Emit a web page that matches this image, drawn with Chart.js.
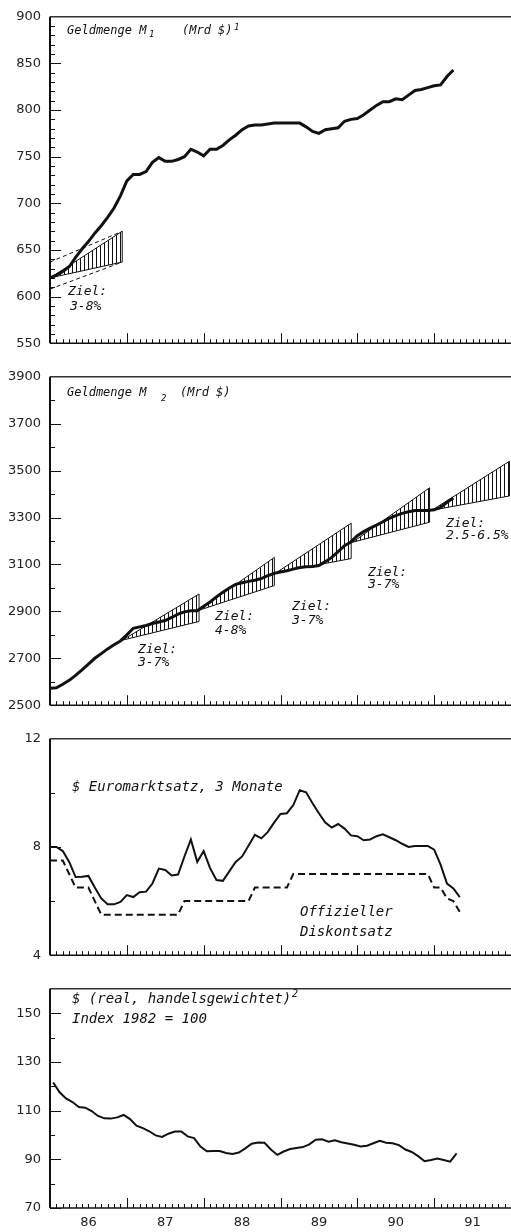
<!DOCTYPE html>
<html>
<head>
<meta charset="UTF-8">
<title>Geldmenge, Zinsen, Dollar</title>
<script src="https://cdn.jsdelivr.net/npm/chart.js@4.4.1/dist/chart.umd.min.js"></script>
<style>
  body { margin: 0; background: #fff; }
  .panel { position: absolute; left: 0; width: 511px; }
  canvas { display: block; }
</style>
</head>
<body>
<div class="panel" style="top:0px"><canvas id="m1" width="511" height="360"></canvas></div>
<div class="panel" style="top:360px"><canvas id="m2" width="511" height="362"></canvas></div>
<div class="panel" style="top:722px"><canvas id="zins" width="511" height="250"></canvas></div>
<div class="panel" style="top:972px"><canvas id="dollar" width="511" height="260"></canvas></div>
<script>
// monthly values, Jan 1986 onwards
const startYear = 1986;
const yearLabels = ['86', '87', '88', '89', '90', '91'];

const m1 = [620, 623, 627, 632, 642, 651, 659, 668, 676, 685,
  695, 708, 724, 731, 731, 734, 744, 749, 745, 745,
  747, 750, 758, 755, 751, 758, 758, 762, 768, 773,
  779, 783, 784, 784, 785, 786, 786, 786, 786, 786,
  782, 777, 775, 779, 780, 781, 788, 790, 791, 795,
  800, 805, 809, 809, 812, 811, 816, 821, 822, 824,
  826, 827, 836, 843];

const m2 = [2572, 2574, 2589, 2606, 2627, 2651, 2675, 2700, 2720, 2740,
  2758, 2774, 2800, 2828, 2834, 2840, 2848, 2855, 2861, 2874,
  2888, 2898, 2903, 2903, 2922, 2940, 2962, 2982, 3000, 3015,
  3022, 3028, 3033, 3040, 3052, 3062, 3068, 3073, 3080, 3087,
  3090, 3091, 3095, 3112, 3130, 3155, 3180, 3196, 3223, 3240,
  3255, 3268, 3282, 3297, 3308, 3318, 3325, 3330, 3330, 3330,
  3333, 3343, 3365, 3383];

const euro = [8.0, 8.0, 7.85, 7.45, 6.89, 6.90, 6.93, 6.50, 6.10, 5.88,
  5.88, 5.97, 6.22, 6.15, 6.33, 6.35, 6.65, 7.20, 7.15, 6.95,
  6.98, 7.65, 8.28, 7.45, 7.85, 7.22, 6.78, 6.75, 7.10, 7.45,
  7.65, 8.05, 8.45, 8.32, 8.55, 8.90, 9.22, 9.25, 9.55, 10.1,
  10.02, 9.62, 9.25, 8.90, 8.72, 8.85, 8.68, 8.43, 8.40, 8.25,
  8.28, 8.40, 8.47, 8.36, 8.25, 8.12, 8.00, 8.04, 8.04, 8.04,
  7.90, 7.35, 6.65, 6.47, 6.15];

const diskont = [7.5, 7.5, 7.5, 7.0, 6.5, 6.5, 6.5, 6.0, 5.5, 5.5,
  5.5, 5.5, 5.5, 5.5, 5.5, 5.5, 5.5, 5.5, 5.5, 5.5,
  5.5, 6.0, 6.0, 6.0, 6.0, 6.0, 6.0, 6.0, 6.0, 6.0,
  6.0, 6.0, 6.5, 6.5, 6.5, 6.5, 6.5, 6.5, 7.0, 7.0,
  7.0, 7.0, 7.0, 7.0, 7.0, 7.0, 7.0, 7.0, 7.0, 7.0,
  7.0, 7.0, 7.0, 7.0, 7.0, 7.0, 7.0, 7.0, 7.0, 7.0,
  6.5, 6.5, 6.1, 6.0, 5.6];

const dollar = [121.5, 117.5, 115, 113.5, 111.5, 111.2, 109.8, 107.8, 106.8, 106.7,
  107.2, 108.2, 106.5, 103.8, 102.8, 101.5, 99.8, 99.2, 100.5, 101.4,
  101.4, 99.4, 98.7, 95.2, 93.3, 93.4, 93.4, 92.6, 92.2, 92.8,
  94.5, 96.4, 96.9, 96.8, 94.0, 91.8, 93.2, 94.2, 94.6, 95.0,
  96.1, 98.0, 98.2, 97.2, 97.8, 97.0, 96.5, 96.0, 95.3, 95.6,
  96.6, 97.6, 96.8, 96.6, 95.8, 94.0, 93.0, 91.3, 89.2, 89.7,
  90.3, 89.7, 89.0, 92.4];

// target cones: start / end (year), base value, lower and upper end value
const m1ConeX0 = [1986.0];
const m1ConeX1 = [1986.94];
const m1ConeBase = [620];
const m1ConeLow = [637];
const m1ConeHigh = [670];
const m1Channel = [[608, 637], [637, 670]];

const m2ConeX0 = [1986.94, 1987.94, 1988.95, 1989.94, 1990.97];
const m2ConeX1 = [1987.94, 1988.92, 1989.92, 1990.94, 1991.98];
const m2ConeBase = [2777, 2905, 3066, 3195, 3331];
const m2ConeLow = [2857, 3010, 3125, 3280, 3392];
const m2ConeHigh = [2974, 3130, 3276, 3427, 3540];

const toPoints = (vals, offset) => vals.map((v, i) => ({x: startYear + (i + offset) / 12, y: v}));

const INK = '#111';
const MONO = '"DejaVu Sans Mono", monospace';

function hatch(canvas) {
  const c = document.createElement('canvas');
  c.width = 4; c.height = 4;
  const g = c.getContext('2d');
  g.fillStyle = INK;
  g.fillRect(0, 0, 1, 4);
  return canvas.getContext('2d').createPattern(c, 'repeat');
}

function coneSets(x0s, x1s, base, low, high, pat) {
  const sets = [];
  x0s.forEach((x0, i) => {
    const x1 = x1s[i];
    sets.push({data: [{x: x0, y: base[i]}, {x: x1, y: low[i]}], borderWidth: 1, borderColor: INK, fill: false});
    sets.push({data: [{x: x0, y: base[i]}, {x: x1, y: high[i]}], borderWidth: 1, borderColor: INK, fill: '-1', backgroundColor: pat});
    sets.push({data: [{x: x1, y: low[i]}, {x: x1, y: high[i]}], borderWidth: 1, borderColor: INK, fill: false});
  });
  return sets;
}

// frame, inner tick marks
const framePlugin = {
  id: 'frame',
  afterDatasetsDraw(chart, args, o) {
    const {ctx, chartArea: a, scales: {x, y}} = chart;
    ctx.save();
    ctx.strokeStyle = INK;
    ctx.lineWidth = 1;
    ctx.beginPath();
    for (let m = 0; m <= 72; m++) {
      const px = Math.round(x.getPixelForValue(startYear + m / 12)) + 0.5;
      const len = m % 12 === 0 ? 10 : 4;
      ctx.moveTo(px, a.bottom);
      ctx.lineTo(px, a.bottom - len);
    }
    for (let v = o.min; v < o.max; v += o.minor) {
      const py = Math.round(y.getPixelForValue(v)) + 0.5;
      const len = o.labels.includes(v) ? 11 : 5;
      ctx.moveTo(a.left, py);
      ctx.lineTo(a.left + len, py);
    }
    ctx.stroke();
    ctx.lineWidth = 1.5;
    ctx.strokeStyle = '#333';
    ctx.beginPath();
    ctx.moveTo(a.left, a.top);
    ctx.lineTo(a.right, a.top);
    ctx.stroke();
    ctx.strokeStyle = INK;
    ctx.beginPath();
    ctx.moveTo(a.left, a.bottom);
    ctx.lineTo(a.right, a.bottom);
    ctx.stroke();
    ctx.lineWidth = 2;
    ctx.beginPath();
    ctx.moveTo(a.left, a.top);
    ctx.lineTo(a.left, a.bottom);
    ctx.stroke();
    ctx.restore();
  }
};

const textPlugin = {
  id: 'texts',
  afterDraw(chart, args, o) {
    const ctx = chart.ctx;
    ctx.save();
    ctx.fillStyle = INK;
    ctx.textBaseline = 'middle';
    for (const t of o.items) {
      ctx.font = 'italic ' + t.size + 'px ' + MONO;
      ctx.fillText(t.text, t.x, t.y - o.top);
    }
    ctx.restore();
  }
};

function makePanel(id, top, pad, yMin, yMax, yLabels, yMinor, datasets, texts, showYears) {
  const labelFont = {family: '"DejaVu Sans", sans-serif', size: 13};
  return new Chart(document.getElementById(id), {
    type: 'line',
    data: {datasets},
    options: {
      responsive: false,
      animation: false,
      events: [],
      layout: {padding: {top: pad[0], bottom: pad[1], left: 0, right: 0}},
      elements: {point: {radius: 0}, line: {tension: 0}},
      scales: {
        x: {
          type: 'linear', min: startYear, max: startYear + 6,
          display: showYears,
          grid: {display: false, drawTicks: false},
          border: {display: false},
          afterFit: s => { if (showYears) s.height = 24; },
          afterBuildTicks: s => { s.ticks = yearLabels.map((l, i) => ({value: startYear + i + 0.5})); },
          ticks: {
            padding: 7, color: '#222', font: labelFont, autoSkip: false, maxRotation: 0,
            callback: v => yearLabels[Math.floor(v - startYear)]
          }
        },
        y: {
          min: yMin, max: yMax,
          grid: {display: false, drawTicks: false},
          border: {display: false},
          afterFit: s => { s.width = 50; },
          afterBuildTicks: s => { s.ticks = yLabels.map(v => ({value: v})); },
          ticks: {padding: 9, color: '#222', font: labelFont, autoSkip: false, callback: v => String(v)}
        }
      },
      plugins: {
        legend: {display: false},
        tooltip: {enabled: false},
        frame: {min: yMin, max: yMax, minor: yMinor, labels: yLabels},
        texts: {top, items: texts}
      }
    },
    plugins: [framePlugin, textPlugin]
  });
}

// Panel 1: M1
const c1 = document.getElementById('m1');
const pat1 = hatch(c1);
makePanel('m1', 0, [12, 15], 550, 900, [550, 600, 650, 700, 750, 800, 850, 900], 10, [
  {data: toPoints(m1, 0), borderColor: INK, borderWidth: 3, fill: false},
  ...coneSets(m1ConeX0, m1ConeX1, m1ConeBase, m1ConeLow, m1ConeHigh, pat1),
  ...m1Channel.map(ch => ({data: [{x: m1ConeX0[0], y: ch[0]}, {x: m1ConeX1[0], y: ch[1]}],
    borderColor: INK, borderWidth: 1, borderDash: [4, 3], fill: false}))
], [
  {text: 'Geldmenge M', x: 67, y: 31, size: 12},
  {text: '1', x: 149, y: 35, size: 9},
  {text: '(Mrd $)', x: 182, y: 31, size: 12},
  {text: '1', x: 234, y: 28, size: 9},
  {text: 'Ziel:', x: 68, y: 292, size: 13},
  {text: '3-8%', x: 70, y: 307, size: 13}
], false);

// Panel 2: M2
const c2 = document.getElementById('m2');
const pat2 = hatch(c2);
makePanel('m2', 360, [14, 14], 2500, 3900, [2500, 2700, 2900, 3100, 3300, 3500, 3700, 3900], 100, [
  {data: toPoints(m2, 0), borderColor: INK, borderWidth: 3, fill: false},
  ...coneSets(m2ConeX0, m2ConeX1, m2ConeBase, m2ConeLow, m2ConeHigh, pat2)
], [
  {text: 'Geldmenge M', x: 67, y: 393, size: 12},
  {text: '2', x: 161, y: 399, size: 9},
  {text: '(Mrd $)', x: 180, y: 393, size: 12},
  {text: 'Ziel:', x: 138, y: 650, size: 13},
  {text: '3-7%', x: 138, y: 663, size: 13},
  {text: 'Ziel:', x: 215, y: 617, size: 13},
  {text: '4-8%', x: 215, y: 631, size: 13},
  {text: 'Ziel:', x: 292, y: 607, size: 13},
  {text: '3-7%', x: 292, y: 621, size: 13},
  {text: 'Ziel:', x: 368, y: 573, size: 13},
  {text: '3-7%', x: 368, y: 585, size: 13},
  {text: 'Ziel:', x: 446, y: 524, size: 13},
  {text: '2.5-6.5%', x: 446, y: 536, size: 13}
], false);

// Panel 3: interest rates
makePanel('zins', 722, [14, 14], 4, 12, [4, 8, 12], 2, [
  {data: toPoints(euro, 0), borderColor: INK, borderWidth: 2, fill: false},
  {data: toPoints(diskont, 0), borderColor: INK, borderWidth: 2, borderDash: [7, 4], fill: false}
], [
  {text: '$ Euromarktsatz, 3 Monate', x: 72, y: 787, size: 14},
  {text: 'Offizieller', x: 300, y: 912, size: 14},
  {text: 'Diskontsatz', x: 300, y: 932, size: 14}
], false);

// Panel 4: dollar index
makePanel('dollar', 972, [15, 0], 70, 160, [70, 90, 110, 130, 150], 10, [
  {data: toPoints(dollar, 0.5), borderColor: INK, borderWidth: 2, fill: false}
], [
  {text: '$ (real, handelsgewichtet)', x: 72, y: 999, size: 14},
  {text: '2', x: 292, y: 994, size: 10},
  {text: 'Index 1982 = 100', x: 72, y: 1019, size: 14}
], true);
</script>
</body>
</html>
